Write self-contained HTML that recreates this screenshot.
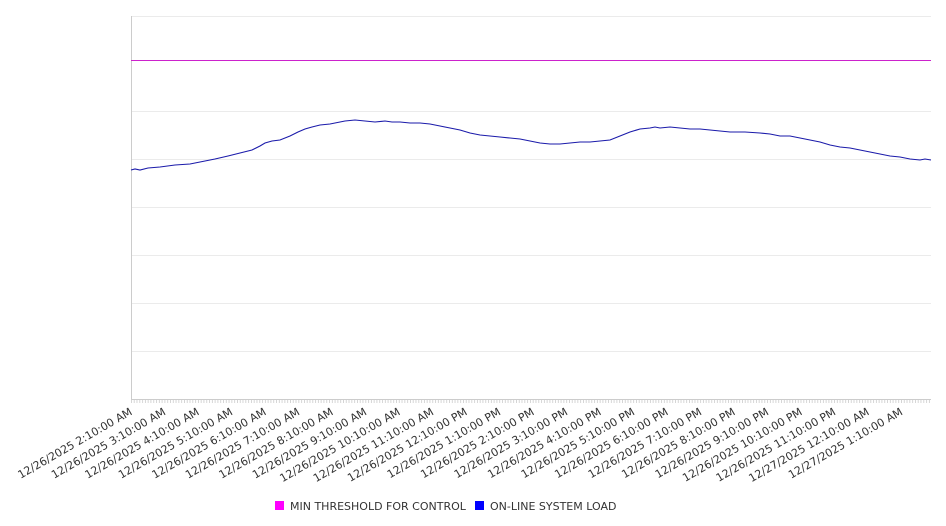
<!DOCTYPE html>
<html><head><meta charset="utf-8"><style>
html,body{margin:0;padding:0;background:#fff;}
svg{display:block;font-family:"DejaVu Sans","Liberation Sans",sans-serif;}
</style></head><body>
<svg width="946" height="526" viewBox="0 0 946 526">
<defs><pattern id="mt" x="131" y="399" width="2.79" height="5" patternUnits="userSpaceOnUse"><rect x="0" y="0" width="0.8" height="4" fill="#ccc"/></pattern></defs>
<g stroke="#ebebeb" stroke-width="1">
<line x1="131" x2="931" y1="16.5" y2="16.5"/>
<line x1="131" x2="931" y1="111.5" y2="111.5"/>
<line x1="131" x2="931" y1="159.5" y2="159.5"/>
<line x1="131" x2="931" y1="207.5" y2="207.5"/>
<line x1="131" x2="931" y1="255.5" y2="255.5"/>
<line x1="131" x2="931" y1="303.5" y2="303.5"/>
<line x1="131" x2="931" y1="351.5" y2="351.5"/>
</g>
<line x1="131.5" x2="131.5" y1="16" y2="400" stroke="#ccc"/>
<line x1="131" x2="931" y1="399.5" y2="399.5" stroke="#ccc"/>
<rect x="131" y="400" width="800" height="4" fill="url(#mt)"/>
<line x1="131" x2="931" y1="60.5" y2="60.5" stroke="#cc22cc" stroke-width="1"/>
<polyline fill="none" stroke="#1a1aaa" stroke-width="1.1" points="131,170 135,169 140,170 148,168 160,167 175,165 190,164 200,162 215,159 228,156 240,153 252,150 260,146 265,143 272,141 280,140 290,136 298,132 305,129 312,127 320,125 330,124 340,122 345,121 355,120 365,121 375,122 385,121 392,122 400,122 410,123 420,123 430,124 440,126 450,128 460,130 470,133 480,135 490,136 500,137 510,138 520,139 530,141 540,143 550,144 560,144 570,143 580,142 590,142 600,141 610,140 620,136 630,132 640,129 650,128 655,127 660,128 670,127 680,128 690,129 700,129 710,130 720,131 730,132 745,132 760,133 770,134 780,136 790,136 800,138 810,140 820,142 830,145 840,147 850,148 860,150 870,152 880,154 890,156 900,157 910,159 920,160 925,159 931,160"/>
<g font-size="11" fill="#333" text-anchor="end">
<text transform="translate(133,414) rotate(-30)">12/26/2025 2:10:00 AM</text>
<text transform="translate(166.5,414) rotate(-30)">12/26/2025 3:10:00 AM</text>
<text transform="translate(200,414) rotate(-30)">12/26/2025 4:10:00 AM</text>
<text transform="translate(233.5,414) rotate(-30)">12/26/2025 5:10:00 AM</text>
<text transform="translate(267,414) rotate(-30)">12/26/2025 6:10:00 AM</text>
<text transform="translate(300.5,414) rotate(-30)">12/26/2025 7:10:00 AM</text>
<text transform="translate(334,414) rotate(-30)">12/26/2025 8:10:00 AM</text>
<text transform="translate(367.5,414) rotate(-30)">12/26/2025 9:10:00 AM</text>
<text transform="translate(401,414) rotate(-30)">12/26/2025 10:10:00 AM</text>
<text transform="translate(434.5,414) rotate(-30)">12/26/2025 11:10:00 AM</text>
<text transform="translate(468,414) rotate(-30)">12/26/2025 12:10:00 PM</text>
<text transform="translate(501.5,414) rotate(-30)">12/26/2025 1:10:00 PM</text>
<text transform="translate(535,414) rotate(-30)">12/26/2025 2:10:00 PM</text>
<text transform="translate(568.5,414) rotate(-30)">12/26/2025 3:10:00 PM</text>
<text transform="translate(602,414) rotate(-30)">12/26/2025 4:10:00 PM</text>
<text transform="translate(635.5,414) rotate(-30)">12/26/2025 5:10:00 PM</text>
<text transform="translate(669,414) rotate(-30)">12/26/2025 6:10:00 PM</text>
<text transform="translate(702.5,414) rotate(-30)">12/26/2025 7:10:00 PM</text>
<text transform="translate(736,414) rotate(-30)">12/26/2025 8:10:00 PM</text>
<text transform="translate(769.5,414) rotate(-30)">12/26/2025 9:10:00 PM</text>
<text transform="translate(803,414) rotate(-30)">12/26/2025 10:10:00 PM</text>
<text transform="translate(836.5,414) rotate(-30)">12/26/2025 11:10:00 PM</text>
<text transform="translate(870,414) rotate(-30)">12/27/2025 12:10:00 AM</text>
<text transform="translate(903.5,414) rotate(-30)">12/27/2025 1:10:00 AM</text>
</g>
<rect x="275" y="501" width="9" height="9" fill="#ff00ff"/>
<text x="290" y="510" font-size="11" fill="#333">MIN THRESHOLD FOR CONTROL</text>
<rect x="475" y="501" width="9" height="9" fill="#0000ff"/>
<text x="490" y="510" font-size="11" fill="#333">ON-LINE SYSTEM LOAD</text>
</svg>
</body></html>
